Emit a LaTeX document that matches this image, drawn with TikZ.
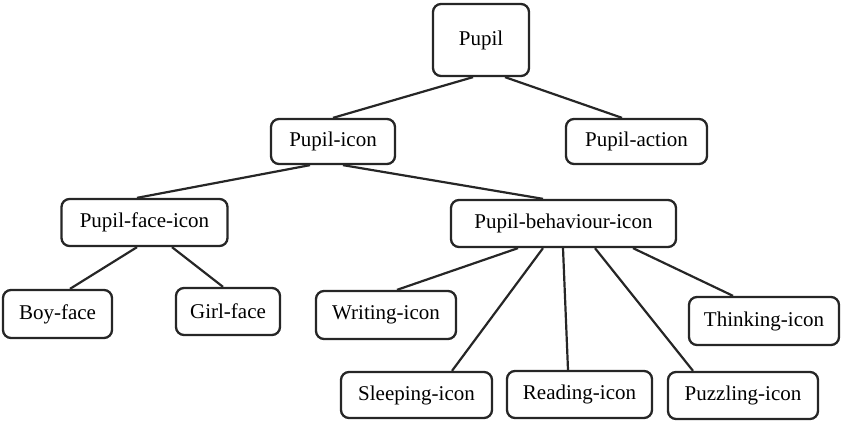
\documentclass[tikz,border=0pt]{standalone}
\usepackage{fontspec}
\setmainfont{Liberation Serif}
\begin{document}
\begin{tikzpicture}[x=1pt,y=-1pt,
  box/.style={draw=black!85, line width=2.3pt, rounded corners=8pt,
    inner sep=0pt, align=center, font=\fontsize{21}{25}\selectfont},
  link/.style={draw=black!85, line width=2.2pt}]
\useasboundingbox (0,0) rectangle (841,422);

% tree nodes
\node[box, minimum width=96pt,  minimum height=72pt] (pupil)   at (481,40)    {Pupil};
\node[box, minimum width=124pt, minimum height=45pt] (picon)   at (333,141.5) {Pupil-icon};
\node[box, minimum width=141pt, minimum height=45pt] (paction) at (636.5,141.5) {Pupil-action};
\node[box, minimum width=166pt, minimum height=47pt] (pface)   at (144.5,222.5) {Pupil-face-icon};
\node[box, minimum width=225pt, minimum height=47pt] (pbeh)    at (563.5,223.5) {Pupil-behaviour-icon};
\node[box, minimum width=109pt, minimum height=48pt] (boy)     at (57.5,314)  {Boy-face};
\node[box, minimum width=104pt, minimum height=47pt] (girl)    at (228,311.5) {Girl-face};
\node[box, minimum width=140pt, minimum height=48pt] (writing) at (386,315)   {Writing-icon};
\node[box, minimum width=150pt, minimum height=48pt] (thinking) at (764,321)  {Thinking-icon};
\node[box, minimum width=151pt, minimum height=46pt] (sleeping) at (416.5,395) {Sleeping-icon};
\node[box, minimum width=145pt, minimum height=47pt] (reading) at (579.5,394.5) {Reading-icon};
\node[box, minimum width=150pt, minimum height=47pt] (puzzling) at (743,395.5) {Puzzling-icon};

% connectors
\draw[link] ([xshift=-8pt]pupil.south)  -- (picon.north);
\draw[link] ([xshift=24pt]pupil.south)  -- ([xshift=-14.5pt]paction.north);
\draw[link] ([xshift=-23pt]picon.south) -- ([xshift=-7.5pt]pface.north);
\draw[link] ([xshift=10pt]picon.south)  -- ([xshift=-20.5pt]pbeh.north);
\draw[link] ([xshift=-7.5pt]pface.south) -- ([xshift=12.5pt]boy.north);
\draw[link] ([xshift=27.5pt]pface.south) -- ([xshift=-5pt]girl.north);
\draw[link] ([xshift=-45.5pt]pbeh.south) -- ([xshift=11pt]writing.north);
\draw[link] ([xshift=-20.5pt]pbeh.south) -- ([xshift=35.5pt]sleeping.north);
\draw[link] ([xshift=-0.5pt]pbeh.south)  -- ([xshift=-11.5pt]reading.north);
\draw[link] ([xshift=31.5pt]pbeh.south)  -- ([xshift=-50pt]puzzling.north);
\draw[link] ([xshift=69.5pt]pbeh.south)  -- ([xshift=-31pt]thinking.north);
\end{tikzpicture}
\end{document}
